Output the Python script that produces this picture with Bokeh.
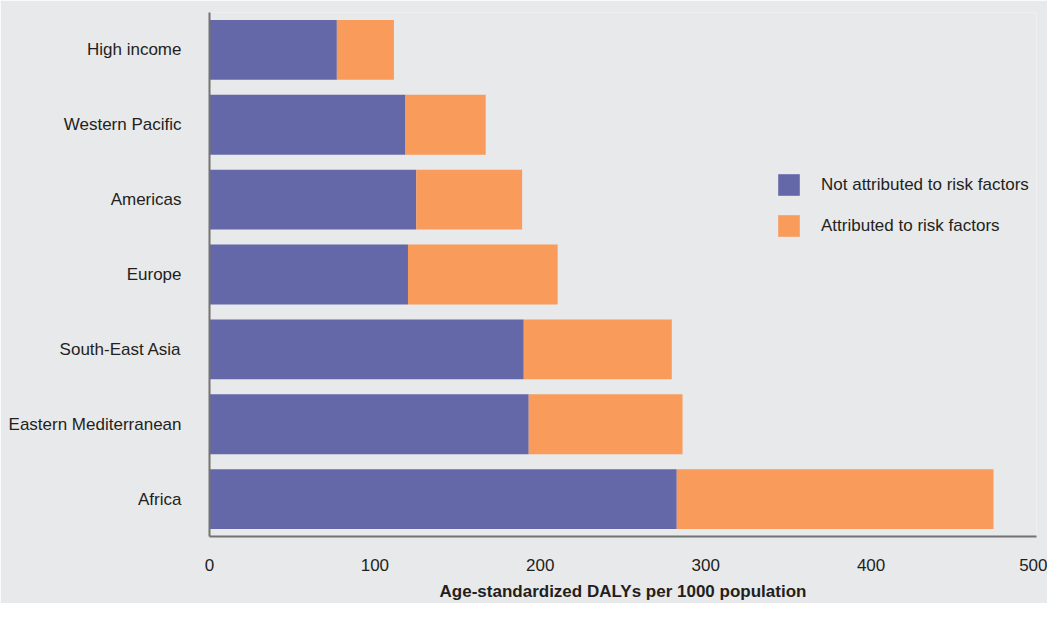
from bokeh.plotting import figure
from bokeh.models import ColumnDataSource, FactorRange, Range1d, Legend, LegendItem, FixedTicker
from bokeh.embed import file_html
from bokeh.resources import INLINE

regions = ["Africa", "Eastern Mediterranean", "South-East Asia", "Europe",
           "Americas", "Western Pacific", "High income"]
not_attributed = [282.5, 193, 190, 120, 125, 118.5, 77]
attributed = [191.5, 93, 89.5, 90.5, 64, 48.5, 34.5]
series_names = ["Not attributed to risk factors", "Attributed to risk factors"]
x_ticks = [0, 100, 200, 300, 400, 500]
x_title = "Age-standardized DALYs per 1000 population"

BG = "#e8e9eb"
PURPLE = "#6468a8"
ORANGE = "#f89b5b"
TEXT = "#231f20"
FONT = "Liberation Sans"

source = ColumnDataSource(dict(region=regions, na=not_attributed, a=attributed))

p = figure(width=1047, height=603, output_backend="svg", toolbar_location=None,
           y_range=FactorRange(factors=regions, range_padding=0),
           x_range=Range1d(0, 500))
p.min_border_left = 209
p.min_border_right = 11
p.min_border_top = 12
p.min_border_bottom = 59
p.background_fill_color = BG
p.border_fill_color = BG
p.outline_line_color = None
p.xgrid.grid_line_color = None
p.ygrid.grid_line_color = None

renderers = p.hbar_stack(["na", "a"], y="region", height=0.8,
                         color=[PURPLE, ORANGE], line_color=None, source=source)

legend = Legend(items=[LegendItem(label=series_names[0], renderers=[renderers[0]]),
                       LegendItem(label=series_names[1], renderers=[renderers[1]])],
                location=(566, 297), orientation="vertical")
legend.glyph_width = 27
legend.glyph_height = 27
legend.spacing = 14
legend.padding = 0
legend.margin = 0
legend.label_standoff = 19
legend.border_line_color = None
legend.background_fill_alpha = 0
legend.label_text_font = FONT
legend.label_text_font_size = "17px"
legend.label_text_color = TEXT
legend.label_height = 27
p.add_layout(legend)

xa = p.xaxis[0]
xa.ticker = FixedTicker(ticks=x_ticks)
xa.major_tick_line_color = None
xa.minor_tick_line_color = None
xa.axis_line_color = "#737373"
xa.axis_line_width = 2
xa.major_label_text_font = FONT
xa.major_label_text_font_size = "17px"
xa.major_label_text_color = TEXT
xa.major_label_standoff = 16
xa.axis_label = x_title
xa.axis_label_text_font = FONT
xa.axis_label_text_font_size = "17px"
xa.axis_label_text_font_style = "bold"
xa.axis_label_text_color = TEXT
xa.axis_label_standoff = 8

ya = p.yaxis[0]
ya.major_tick_line_color = None
ya.minor_tick_line_color = None
ya.axis_line_color = "#737373"
ya.axis_line_width = 2
ya.major_label_text_font = FONT
ya.major_label_text_font_size = "17px"
ya.major_label_text_color = TEXT
ya.major_label_standoff = 22

open("out.html", "w").write(file_html(p, INLINE))
